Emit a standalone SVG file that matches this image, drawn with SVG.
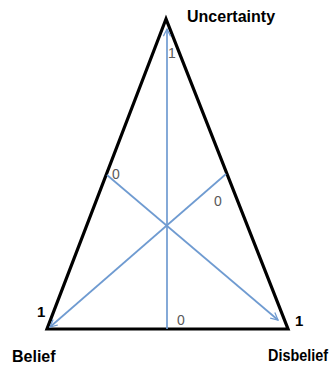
<svg xmlns="http://www.w3.org/2000/svg" width="334" height="367" viewBox="0 0 334 367">
<style>
.lbl{font-family:"Liberation Sans",Arial,sans-serif;font-weight:bold;font-size:16px;fill:#000}
.num{font-family:"Liberation Sans",Arial,sans-serif;font-size:14px;fill:#595959}
.one{font-family:"Liberation Sans",Arial,sans-serif;font-weight:bold;font-size:15px;fill:#000}
.ax{stroke:#6f9bd1;stroke-width:1.7;fill:none}
</style>
<defs>
<marker id="arr" viewBox="0 0 10 10" refX="9" refY="5" markerWidth="9" markerHeight="9" orient="auto" markerUnits="userSpaceOnUse">
<path d="M1,1 L9,5 L1,9" fill="none" stroke="#6f9bd1" stroke-width="1.4"/>
</marker>
</defs>
<rect width="334" height="367" fill="#fff"/>
<g id="triangle">
<polygon points="166,19 47,329 288,329" fill="none" stroke="#000" stroke-width="3.2" stroke-linejoin="miter"/>
</g>
<g id="connectors">
<line class="ax" x1="167" y1="329" x2="167" y2="29" marker-end="url(#arr)"/>
<line class="ax" x1="107" y1="175" x2="278" y2="320" marker-end="url(#arr)"/>
<line class="ax" x1="226" y1="174" x2="50" y2="327" marker-end="url(#arr)"/>
</g>
<g id="uncertainty"><text class="lbl" x="187" y="22">Uncertainty</text></g>
<g id="belief"><text class="lbl" x="12" y="362">Belief</text></g>
<g id="disbelief"><text class="lbl" x="268" y="361" font-size="15" textLength="60" lengthAdjust="spacingAndGlyphs">Disbelief</text></g>
<g id="values">
<text class="one" x="37" y="317">1</text>
<text class="one" x="295" y="326">1</text>
<text class="num" x="168" y="58">1</text>
<text class="num" x="112" y="179">0</text>
<text class="num" x="214" y="206">0</text>
<text class="num" x="177" y="325">0</text>
</g>
</svg>
